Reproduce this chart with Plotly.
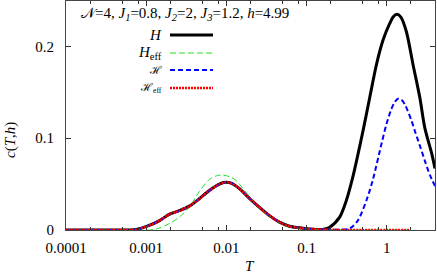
import plotly.graph_objects as go
import numpy as np

# ---- data ----
T_H = [0.0001, 0.0003, 0.0006, 0.00075, 0.00109, 0.00145, 0.00194, 0.00259, 0.00345, 0.0046,
       0.00613, 0.00818, 0.0097, 0.0115, 0.01455, 0.0194, 0.0259, 0.0345, 0.046, 0.0613,
       0.0818, 0.109, 0.158, 0.194, 0.259, 0.313, 0.376, 0.506, 0.613, 0.743,
       0.90, 1.09, 1.2, 1.34, 1.5, 1.76, 2.13, 2.59, 2.99, 3.65, 4.0]
c_H = [0, 0, 0, 0.0005, 0.005, 0.010, 0.017, 0.021, 0.026, 0.034,
       0.043, 0.050, 0.052, 0.051, 0.045, 0.0345, 0.0247, 0.0157, 0.0085, 0.0041,
       0.0024, 0.0012, 0.0006, 0.003, 0.014, 0.032, 0.057, 0.108, 0.144, 0.180,
       0.207, 0.225, 0.232, 0.235, 0.232, 0.216, 0.180, 0.144, 0.111, 0.083, 0.067]

T_Heff = [0.0001, 0.0006, 0.0011, 0.00145, 0.00194, 0.00259, 0.00345, 0.0046, 0.00613, 0.0075,
          0.00883, 0.011, 0.0132, 0.0176, 0.0259, 0.0345, 0.046, 0.0613, 0.0818, 0.109,
          0.2, 0.5, 2.0]
c_Heff = [0, 0, 0, 0.002, 0.007, 0.014, 0.025, 0.042, 0.055, 0.059,
          0.060, 0.058, 0.054, 0.041, 0.024, 0.015, 0.008, 0.004, 0.002, 0.001,
          0.0002, 0, 0]

T_cH = [0.0001, 0.0003, 0.0006, 0.00075, 0.00109, 0.00145, 0.00194, 0.00259, 0.00345, 0.0046,
        0.00613, 0.00818, 0.0097, 0.0115, 0.01455, 0.0194, 0.0259, 0.0345, 0.046, 0.0613,
        0.0818, 0.109, 0.158, 0.25, 0.345, 0.434, 0.56, 0.668, 0.866, 0.99,
        1.145, 1.25, 1.38, 1.52, 1.68, 2.04, 2.24, 2.59, 3.0, 3.45, 4.0]
c_cH = [0, 0, 0, 0.0005, 0.005, 0.010, 0.017, 0.021, 0.026, 0.034,
        0.043, 0.050, 0.052, 0.051, 0.045, 0.0345, 0.0247, 0.0157, 0.0085, 0.0041,
        0.0024, 0.0012, 0.0005, 0.0003, 0.0016, 0.010, 0.0325, 0.054, 0.095, 0.115,
        0.132, 0.139, 0.143, 0.142, 0.137, 0.119, 0.108, 0.092, 0.075, 0.060, 0.048]

T_cHeff = [0.0001, 0.0003, 0.0006, 0.00075, 0.00109, 0.00145, 0.00194, 0.00259, 0.00345, 0.0046,
           0.00613, 0.00818, 0.0097, 0.0115, 0.01455, 0.0194, 0.0259, 0.0345, 0.046, 0.0613,
           0.0818, 0.109, 0.158, 0.25, 0.5, 1.0, 2.0]
c_cHeff = [0, 0, 0, 0.0005, 0.005, 0.010, 0.017, 0.021, 0.026, 0.034,
           0.043, 0.050, 0.052, 0.051, 0.045, 0.0345, 0.0247, 0.0157, 0.0085, 0.0041,
           0.0024, 0.0012, 0.0005, 0.0001, 0, 0, 0]

x_tickvals = [0.0001, 0.001, 0.01, 0.1, 1]
x_ticktext = ["0.0001", "0.001", "0.01", "0.1", "1"]
y_tickvals = [0, 0.1, 0.2]
y_ticktext = ["0", "0.1", "0.2"]

legend_labels = ["<i>H</i>", "<i>H</i><sub>eff</sub>", "ℋ", "ℋ<sub>eff</sub>"]
title_text = ("𝒩=4, <i>J</i><sub><i>1</i></sub>=0.8, <i>J</i><sub><i>2</i></sub>=2, "
              "<i>J</i><sub><i>3</i></sub>=1.2, <i>h</i>=4.99")

FONT = "Liberation Serif"
GREEN = "#22dd22"

styles = [
    dict(color="black", width=3, dash="solid"),
    dict(color=GREEN, width=1, dash="6px,3px"),
    dict(color="#0000ff", width=2, dash="5px,3px"),
    dict(color="#ff0000", width=2.5, dash="2px,1px"),
]
series = [(T_H, c_H), (T_Heff, c_Heff), (T_cH, c_cH), (T_cHeff, c_cHeff)]

fig = go.Figure()
for (t, c), st, name in zip(series, styles, legend_labels):
    fig.add_trace(go.Scatter(x=t, y=c, mode="lines", name=name,
                             line=dict(color=st["color"], width=st["width"], dash=st["dash"],
                                       shape="spline", smoothing=0.8),
                             showlegend=False, hoverinfo="skip"))

# manual legend (label left of sample)
L, R, TOP, BOT = 66, 435, 1, 230
def px(x):
    return (x - L) / (R - L)
def py(y):
    return (BOT - y) / (BOT - TOP)

leg_y = [35, 53, 70, 88]
for lab, st, yy in zip(legend_labels, styles, leg_y):
    fig.add_shape(type="line", xref="paper", yref="paper",
                  x0=px(170), x1=px(213), y0=py(yy), y1=py(yy),
                  line=dict(color=st["color"], width=st["width"], dash=st["dash"]))
    fs = 11 if lab.startswith("ℋ") else 15
    fig.add_annotation(xref="paper", yref="paper", x=px(164), y=py(yy),
                       text=lab, showarrow=False, xanchor="right", yanchor="middle",
                       font=dict(family=FONT, size=fs, color="black"))

fig.add_annotation(xref="paper", yref="paper", x=px(79), y=py(14), text=title_text,
                   showarrow=False, xanchor="left", yanchor="middle",
                   font=dict(family=FONT, size=15, color="black"))
fig.add_annotation(xref="paper", yref="paper", x=px(250), y=py(266), text="<i>T</i>",
                   showarrow=False, xanchor="center", yanchor="middle",
                   font=dict(family=FONT, size=15, color="black"))
fig.add_annotation(xref="paper", yref="paper", x=px(10), y=py(140), text="<i>c</i>(<i>T</i>,<i>h</i>)",
                   showarrow=False, xanchor="center", yanchor="middle", textangle=-90,
                   font=dict(family=FONT, size=15, color="black"))

tickfont = dict(family=FONT, size=15, color="black")
fig.update_layout(
    width=437, height=279,
    margin=dict(l=L, r=437 - R, t=TOP, b=279 - BOT),
    paper_bgcolor="white", plot_bgcolor="white",
    font=dict(family=FONT, size=15, color="black"),
    hovermode=False,
    xaxis=dict(type="log", range=[-4, np.log10(4.0)], tickvals=x_tickvals, ticktext=x_ticktext,
               tickfont=tickfont,
               ticks="inside", ticklen=5, tickcolor="#333", showgrid=False, zeroline=False,
               showline=True, linecolor="#444", linewidth=1, mirror="ticks",
               ticklabelstandoff=4,
               minor=dict(tickmode="array",
                          tickvals=[m * 10.0 ** e for e in range(-4, 1) for m in (2, 5, 8)],
                          ticks="inside", ticklen=3, tickcolor="#333", showgrid=False)),
    yaxis=dict(range=[0, 0.2495], tickvals=y_tickvals, ticktext=y_ticktext,
               tickfont=tickfont,
               ticks="inside", ticklen=5, tickcolor="#333", showgrid=False, zeroline=False,
               showline=True, linecolor="#444", linewidth=1, mirror="ticks",
               ticklabelstandoff=8),
)

fig.write_html("out.html", config={"displayModeBar": False, "staticPlot": True},
               post_script="document.body.style.margin='0';document.body.style.overflow='hidden';")
